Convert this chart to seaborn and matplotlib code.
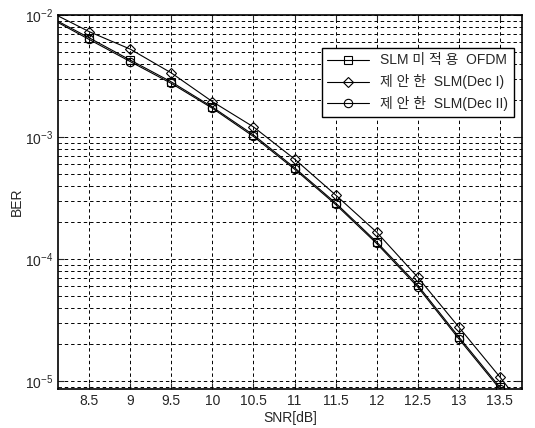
import numpy as np
import pandas as pd
import matplotlib
matplotlib.use("Agg")
import matplotlib.pyplot as plt
import seaborn as sns
from matplotlib.ticker import LogLocator, FixedLocator, NullFormatter

# SNR points (dB)
snr = [8.0, 8.5, 9.0, 9.5, 10.0, 10.5, 11.0, 11.5, 12.0, 12.5, 13.0, 13.5, 14.0]

# BER
ber_no_slm = [9.8e-3, 6.5e-3, 4.27e-3, 2.83e-3, 1.76e-3, 1.04e-3, 5.6e-4,
              2.88e-4, 1.38e-4, 6.1e-5, 2.3e-5, 8.9e-6, 3.0e-6]
ber_dec1 = [1.08e-2, 7.3e-3, 5.25e-3, 3.35e-3, 1.95e-3, 1.21e-3, 6.6e-4,
            3.35e-4, 1.66e-4, 7.1e-5, 2.77e-5, 1.08e-5, 4.0e-6]
ber_dec2 = [9.6e-3, 6.3e-3, 4.15e-3, 2.75e-3, 1.72e-3, 1.01e-3, 5.45e-4,
            2.8e-4, 1.34e-4, 5.9e-5, 2.22e-5, 8.6e-6, 2.9e-6]

labels = ["SLM 미 적 용  OFDM", "제 안 한  SLM(Dec I)", "제 안 한  SLM(Dec II)"]
markers = ["s", "D", "o"]

x_ticks = [8.5, 9, 9.5, 10, 10.5, 11, 11.5, 12, 12.5, 13, 13.5]
x_tick_labels = ["8.5", "9", "9.5", "10", "10.5", "11", "11.5", "12", "12.5", "13", "13.5"]

sns.set_style("ticks")
plt.rcParams["font.family"] = ["Liberation Sans", "Noto Sans CJK KR"]
plt.rcParams["mathtext.fontset"] = "custom"
plt.rcParams["mathtext.rm"] = "Liberation Sans"
plt.rcParams["mathtext.it"] = "Liberation Sans"
plt.rcParams["xtick.direction"] = "in"
plt.rcParams["ytick.direction"] = "in"

df = pd.DataFrame({"snr": snr * 3,
                   "ber": ber_no_slm + ber_dec1 + ber_dec2,
                   "scheme": [labels[0]] * len(snr) + [labels[1]] * len(snr) + [labels[2]] * len(snr)})

fig = plt.figure(figsize=(5.35, 4.28), dpi=100)
ax = fig.add_axes([58 / 535, 1 - 389 / 428, 464 / 535, 374 / 428])

for lab, mk in zip(labels, markers):
    sub = df[df["scheme"] == lab]
    sns.lineplot(data=sub, x="snr", y="ber", ax=ax, color="black", linewidth=0.8,
                 marker=mk, markersize=6 if mk != "D" else 5.5, markerfacecolor="none",
                 markeredgecolor="black", markeredgewidth=0.8, label=lab)

ax.set_yscale("log")
ax.set_xlim(8.12, 13.77)
ax.set_ylim(8.6e-6, 1e-2)
ax.xaxis.set_major_locator(FixedLocator(x_ticks))
ax.set_xticklabels(x_tick_labels)
ax.yaxis.set_major_locator(LogLocator(base=10, numticks=10))
ax.yaxis.set_minor_locator(LogLocator(base=10, subs=np.arange(2, 10), numticks=20))
ax.yaxis.set_minor_formatter(NullFormatter())

ax.grid(True, which="major", axis="both", color="black", linestyle=(0, (3.5, 3)), linewidth=0.7)
ax.grid(True, which="minor", axis="y", color="black", linestyle=(0, (3.5, 3)), linewidth=0.7)

ax.tick_params(axis="both", which="both", labelsize=10, top=True, right=True)
ax.tick_params(axis="both", which="major", length=4)
ax.tick_params(axis="y", which="minor", length=2)
for s in ax.spines.values():
    s.set_color("black")
    s.set_linewidth(1.2)

ax.set_xlabel("SNR[dB]", fontsize=10, labelpad=2)
ax.set_ylabel("BER", fontsize=10, labelpad=1)

leg = ax.legend(loc="upper right", bbox_to_anchor=(0.982, 0.912), borderaxespad=0,
                fontsize=10, frameon=True, fancybox=False, framealpha=1, edgecolor="black",
                handlelength=3, borderpad=0.4, labelspacing=0.5, handletextpad=0.8)
leg.get_frame().set_linewidth(1.0)

fig.savefig("out.png", dpi=100)
